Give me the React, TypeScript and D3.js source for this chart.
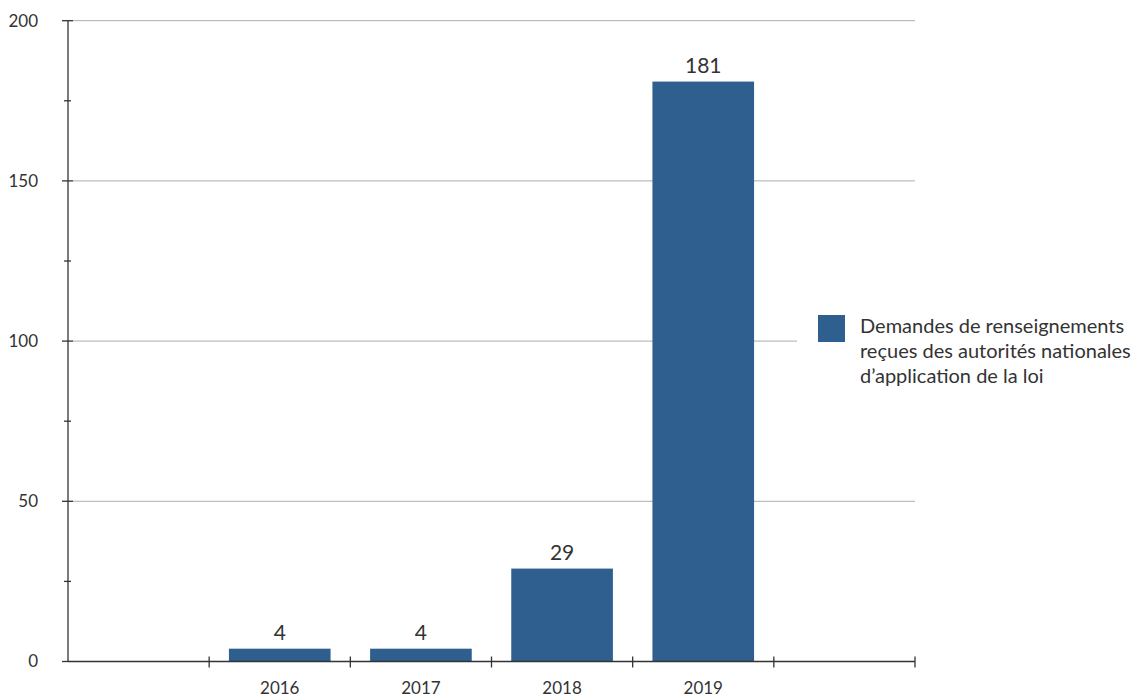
import React from "react";
import * as d3 from "d3";

const categories = ["", "2016", "2017", "2018", "2019", " "];
const years = ["2016", "2017", "2018", "2019"];
const values = [4, 4, 29, 181];
const majorTicks = [0, 50, 100, 150, 200];
const minorTicks = [25, 75, 125, 175];
const legendLines = [
  "Demandes de renseignements",
  "reçues des autorités nationales",
  "d\u2019application de la loi",
];

const W = 1140;
const H = 697;
const FONT = "Lato, 'Open Sans', sans-serif";
const BAR = "#2e5f8e";
const TEXT = "#333";

export default function App() {
  const x = d3.scaleBand<string>().domain(categories).range([68, 915]).paddingInner(0).paddingOuter(0);
  const y = d3.scaleLinear().domain([0, 200]).range([661.5, 20.7]);
  const bw = x.bandwidth() * 0.72;
  const edges = categories.map((c) => x(c) as number).concat([915]);

  return (
    <svg width={W} height={H} style={{ position: "absolute", left: 0, top: 0, display: "block" }}>
      <rect width={W} height={H} fill="#fff" />
      {/* horizontal grid */}
      {majorTicks.filter((t) => t > 0).map((t) => (
        <line key={t} x1={73} x2={915} y1={y(t)} y2={y(t)} stroke="#adadad" strokeWidth={1} />
      ))}
      {/* bars */}
      {years.map((yr, i) => {
        const cx = (x(yr) as number) + x.bandwidth() / 2;
        return (
          <g key={yr}>
            <rect x={cx - bw / 2} y={y(values[i])} width={bw} height={y(0) - y(values[i])} fill={BAR} />
            <text x={cx} y={y(values[i]) - 9} textAnchor="middle" fontFamily={FONT} fontSize={21} fill={TEXT}>
              {values[i]}
            </text>
            <text x={cx} y={694} textAnchor="middle" fontFamily={FONT} fontSize={17} fill={TEXT}>
              {yr}
            </text>
          </g>
        );
      })}
      {/* y axis */}
      <line x1={68} x2={68} y1={y(200)} y2={y(0)} stroke="#333" strokeWidth={1.3} />
      {majorTicks.map((t) => (
        <g key={t}>
          <line x1={62} x2={t === 0 ? 68 : 73} y1={y(t)} y2={y(t)} stroke="#333" strokeWidth={1.3} />
          <text x={38} y={y(t)} dy="0.35em" textAnchor="end" fontFamily={FONT} fontSize={17} fill={TEXT}>
            {t}
          </text>
        </g>
      ))}
      {minorTicks.map((t) => (
        <line key={t} x1={64} x2={71} y1={y(t)} y2={y(t)} stroke="#333" strokeWidth={1.3} />
      ))}
      {/* x axis */}
      <line x1={68} x2={915} y1={y(0)} y2={y(0)} stroke="#333" strokeWidth={1.3} />
      {edges.slice(1).map((e, i) => (
        <line key={i} x1={e} x2={e} y1={y(0) - 5} y2={y(0) + 6} stroke="#333" strokeWidth={1.3} />
      ))}
      {/* legend */}
      <rect x={797} y={300} width={343} height={95} fill="#fff" />
      <rect x={818} y={315} width={27} height={27} fill={BAR} />
      {legendLines.map((l, i) => (
        <text key={i} x={860} y={333 + i * 25} fontFamily={FONT} fontSize={20} fill={TEXT}>
          {l}
        </text>
      ))}
    </svg>
  );
}
